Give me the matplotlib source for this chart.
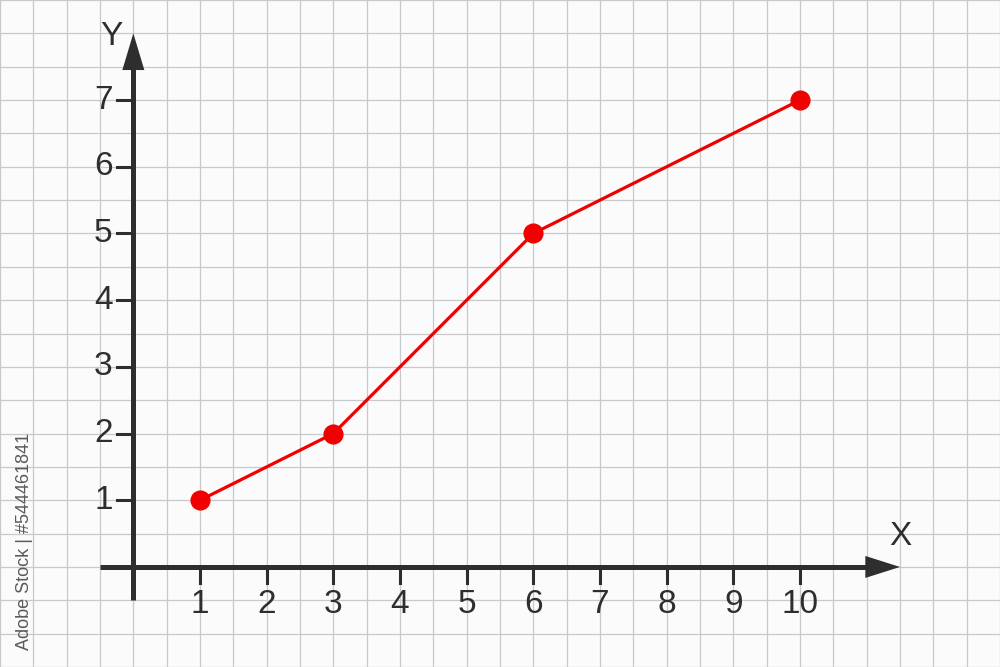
import matplotlib.pyplot as plt
import numpy as np

# data
x_vals = [1, 3, 6, 10]
y_vals = [1, 2, 5, 7]
x_ticks = [1, 2, 3, 4, 5, 6, 7, 8, 9, 10]
y_ticks = [1, 2, 3, 4, 5, 6, 7]

plt.rcParams['font.family'] = ['Liberation Sans', 'DejaVu Sans']
dark = '#2e2e2e'

fig = plt.figure(figsize=(10, 6.67), dpi=100)
fig.patch.set_facecolor('#fbfbfb')
ax = fig.add_axes([0, 0, 1, 1])
ax.set_facecolor('#fbfbfb')
ax.set_xlim(-2, 13)
ax.set_ylim(-1.5, 8.5)
ax.axis('off')

# graph paper grid, half-unit spacing
for gx in np.arange(-2, 13.01, 0.5):
    ax.axvline(gx, color='#c9c9c9', lw=0.9, zorder=0)
for gy in np.arange(-1.5, 8.51, 0.5):
    ax.axhline(gy, color='#c9c9c9', lw=0.9, zorder=0)

# axes with arrow heads
ax.plot([-0.5, 11.0], [0, 0], color=dark, lw=3.6, solid_capstyle='butt', zorder=2)
ax.plot([0, 0], [-0.5, 7.5], color=dark, lw=3.6, solid_capstyle='butt', zorder=2)
ax.fill([10.98, 11.5, 10.98], [0.165, 0, -0.165], color=dark, zorder=2, lw=0)
ax.fill([-0.165, 0, 0.165], [7.45, 8.0, 7.45], color=dark, zorder=2, lw=0)

# ticks and labels
for t in x_ticks:
    ax.plot([t, t], [0, -0.24], color=dark, lw=2.2, zorder=2)
    ax.text(t, -0.57, str(t), ha='center', va='center', fontsize=24, color=dark)
for t in y_ticks:
    ax.plot([-0.24, 0], [t, t], color=dark, lw=2.2, zorder=2)
    ax.text(-0.31, t, str(t), ha='right', va='center', fontsize=24, color=dark)

ax.text(-0.33, 7.96, 'Y', ha='center', va='center', fontsize=24, color=dark)
ax.text(11.5, 0.46, 'X', ha='center', va='center', fontsize=24, color=dark)

# data line
ax.plot(x_vals, y_vals, color='#f00000', lw=2.3, marker='o', markersize=13.5, zorder=3)

# stock watermark id
ax.text(-1.63, 0.38, 'Adobe Stock | #544461841', rotation=90, ha='center', va='center',
        fontsize=13, color='#5a5a5a')

plt.savefig('out.png', dpi=100, facecolor=fig.get_facecolor())
